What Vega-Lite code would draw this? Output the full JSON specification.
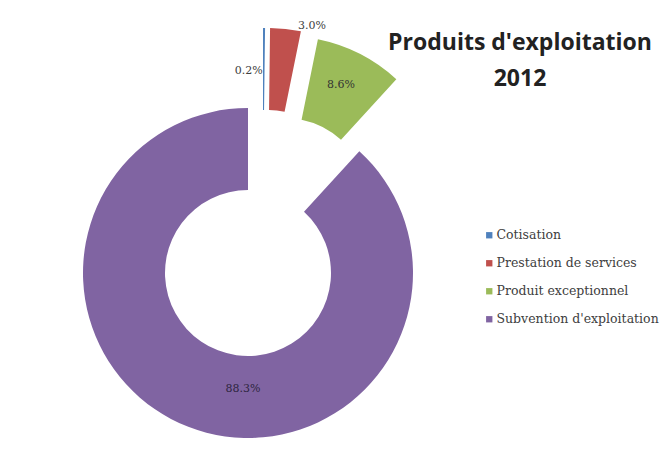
{
  "$schema": "https://vega.github.io/schema/vega-lite/v6.json",
  "width": 330,
  "height": 330,
  "autosize": {"type": "none"},
  "padding": {"left": 83, "top": 108, "right": 252, "bottom": 22},
  "background": "white",
  "title": {
    "text": ["Produits d'exploitation", "2012"],
    "anchor": "middle",
    "frame": "group",
    "dx": 272,
    "offset": -72,
    "font": "Open Sans",
    "fontSize": 23,
    "fontWeight": "bold",
    "lineHeight": 36,
    "color": "#222222"
  },
  "data": {
    "values": [
      {"category": "Cotisation", "value": 0.2, "label": "0.2%"},
      {"category": "Prestation de services", "value": 3.0, "label": "3.0%"},
      {"category": "Produit exceptionnel", "value": 8.6, "label": "8.6%"},
      {"category": "Subvention d'exploitation", "value": 88.3, "label": "88.3%"}
    ]
  },
  "encoding": {
    "theta": {"field": "value", "type": "quantitative", "stack": true},
    "order": {"field": "category", "type": "nominal", "sort": "ascending"},
    "detail": {"field": "category", "type": "nominal"}
  },
  "layer": [
    {
      "mark": {"type": "arc", "radius": 165, "radius2": 83},
      "encoding": {
        "color": {
          "condition": {
            "test": "datum.category === \"Subvention d'exploitation\"",
            "field": "category",
            "type": "nominal",
            "scale": {
              "domain": ["Cotisation", "Prestation de services", "Produit exceptionnel", "Subvention d'exploitation"],
              "range": ["#4F81BD", "#C0504D", "#9BBB59", "#8064A2"]
            },
            "legend": {
              "title": null,
              "orient": "none",
              "legendX": 400,
              "legendY": 121,
              "symbolType": "square",
              "symbolSize": 40,
              "symbolStrokeWidth": 0,
              "labelFont": "DejaVu Serif",
              "labelFontSize": 12.5,
              "labelColor": "#404040",
              "labelOffset": 1,
              "rowPadding": 15,
              "labelLimit": 300
            }
          },
          "value": "transparent"
        }
      }
    },
    {
      "mark": {"type": "arc", "radius": 165, "radius2": 83, "xOffset": 15, "yOffset": -80},
      "encoding": {
        "color": {
          "condition": {"test": "datum.category === 'Cotisation'", "field": "category", "type": "nominal"},
          "value": "transparent"
        }
      }
    },
    {
      "mark": {"type": "arc", "radius": 165, "radius2": 83, "xOffset": 20, "yOffset": -80},
      "encoding": {
        "color": {
          "condition": {"test": "datum.category === 'Prestation de services'", "field": "category", "type": "nominal"},
          "value": "transparent"
        }
      }
    },
    {
      "mark": {"type": "arc", "radius": 165, "radius2": 83, "xOffset": 37, "yOffset": -72},
      "encoding": {
        "color": {
          "condition": {"test": "datum.category === 'Produit exceptionnel'", "field": "category", "type": "nominal"},
          "value": "transparent"
        }
      }
    },
    {
      "mark": {"type": "text", "radius": 116, "dx": 37, "dy": 8, "font": "DejaVu Serif", "fontSize": 11, "fill": "#2e2540"},
      "encoding": {
        "text": {"field": "label", "type": "nominal"},
        "opacity": {"condition": {"test": "datum.category === \"Subvention d'exploitation\"", "value": 1}, "value": 0}
      }
    },
    {
      "mark": {"type": "text", "radius": 122, "xOffset": 15, "yOffset": -80, "align": "right", "dx": -1, "font": "DejaVu Serif", "fontSize": 11, "fill": "#404040"},
      "encoding": {
        "text": {"field": "label", "type": "nominal"},
        "opacity": {"condition": {"test": "datum.category === 'Cotisation'", "value": 1}, "value": 0}
      }
    },
    {
      "mark": {"type": "text", "radius": 168, "xOffset": 20, "yOffset": -80, "dx": 26, "font": "DejaVu Serif", "fontSize": 11, "fill": "#404040"},
      "encoding": {
        "text": {"field": "label", "type": "nominal"},
        "opacity": {"condition": {"test": "datum.category === 'Prestation de services'", "value": 1}, "value": 0}
      }
    },
    {
      "mark": {"type": "text", "radius": 130, "xOffset": 37, "yOffset": -72, "dx": -3, "font": "DejaVu Serif", "fontSize": 11, "fill": "#333333"},
      "encoding": {
        "text": {"field": "label", "type": "nominal"},
        "opacity": {"condition": {"test": "datum.category === 'Produit exceptionnel'", "value": 1}, "value": 0}
      }
    }
  ],
  "config": {
    "view": {"stroke": null}
  }
}
